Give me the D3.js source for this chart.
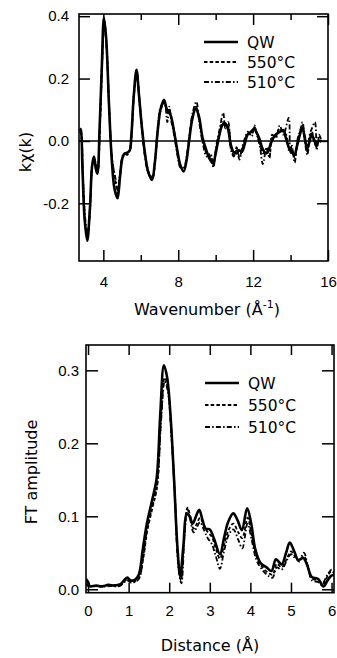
<!DOCTYPE html>
<html>
<head>
<meta charset="utf-8">
<script src="https://cdn.jsdelivr.net/npm/d3@7"></script>
<style>
  body { margin: 0; background: #fff; }
  svg { display: block; font-family: "DejaVu Sans", Verdana, sans-serif; }
  .tick line { stroke: #000; stroke-width: 1.5; }
  .tick text { font-size: 15px; fill: #000; }
</style>
</head>
<body>
<svg id="chart" width="337" height="658"></svg>
<script>
/* DATA */
const seriesNames = ["QW", "550°C", "510°C"];

// top panel: k*chi(k) vs wavenumber
const chiQW = [[2.75,0.04],[2.8,0.035],[2.88,-0.08],[3.0,-0.25],[3.14,-0.32],[3.28,-0.22],[3.4,-0.08],[3.5,-0.05],[3.6,-0.09],[3.68,-0.105],[3.8,0.04],[3.92,0.24],[4.03,0.395],[4.15,0.33],[4.3,0.12],[4.45,-0.06],[4.6,-0.155],[4.76,-0.184],[4.88,-0.12],[5.0,-0.06],[5.1,-0.042],[5.25,-0.038],[5.4,-0.032],[5.5,0.02],[5.62,0.14],[5.77,0.228],[5.9,0.15],[6.05,0.05],[6.2,-0.03],[6.4,-0.1],[6.6,-0.125],[6.75,-0.07],[6.9,0.03],[7.05,0.1],[7.24,0.132],[7.4,0.1],[7.5,0.095],[7.62,0.078],[7.75,0.04],[7.95,-0.03],[8.1,-0.075],[8.29,-0.098],[8.45,-0.06],[8.6,0.01],[8.75,0.07],[8.93,0.105],[9.1,0.08],[9.3,0.01],[9.5,-0.03],[9.7,-0.06],[9.86,-0.072],[10.0,-0.04],[10.2,0.02],[10.35,0.05],[10.48,0.057],[10.65,0.04],[10.8,-0.01],[10.95,-0.035],[11.1,-0.04],[11.25,-0.03],[11.4,-0.035],[11.55,-0.01],[11.7,0.02],[11.9,0.03],[12.05,0.038],[12.2,0.025],[12.35,0.005],[12.5,-0.025],[12.7,-0.04],[12.85,-0.025],[13.0,0.0],[13.2,0.02],[13.4,0.028],[13.6,0.035],[13.75,0.01],[13.9,-0.02],[14.05,-0.035],[14.2,-0.045],[14.35,-0.015],[14.5,0.02],[14.62,0.042],[14.75,0.015],[14.88,-0.025],[15.0,-0.005],[15.12,0.02],[15.25,0.005],[15.38,-0.012],[15.5,0.0],[15.65,-0.002]];
const chi550 = [[2.75,0.03],[2.82,0.02],[2.9,-0.1],[3.02,-0.26],[3.15,-0.31],[3.3,-0.2],[3.42,-0.07],[3.52,-0.055],[3.62,-0.085],[3.7,-0.1],[3.82,0.05],[3.94,0.25],[4.05,0.385],[4.17,0.31],[4.32,0.1],[4.45,-0.05],[4.6,-0.11],[4.7,-0.15],[4.78,-0.172],[4.9,-0.11],[5.02,-0.055],[5.12,-0.045],[5.27,-0.04],[5.42,-0.03],[5.52,0.03],[5.64,0.15],[5.79,0.22],[5.92,0.14],[6.07,0.04],[6.22,-0.04],[6.42,-0.1],[6.62,-0.12],[6.77,-0.06],[6.92,0.04],[7.07,0.1],[7.26,0.125],[7.42,0.09],[7.52,0.1],[7.64,0.07],[7.78,0.03],[7.97,-0.04],[8.12,-0.08],[8.3,-0.09],[8.47,-0.05],[8.62,0.02],[8.77,0.08],[8.95,0.11],[9.12,0.07],[9.32,0.0],[9.52,-0.04],[9.72,-0.05],[9.88,-0.08],[10.02,-0.03],[10.22,0.03],[10.37,0.06],[10.5,0.05],[10.67,0.045],[10.82,-0.02],[10.97,-0.045],[11.12,-0.03],[11.27,-0.05],[11.42,-0.025],[11.57,0.0],[11.72,0.025],[11.92,0.02],[12.07,0.045],[12.22,0.02],[12.37,-0.01],[12.52,-0.04],[12.72,-0.03],[12.87,-0.05],[13.02,0.01],[13.22,0.015],[13.42,0.04],[13.62,0.025],[13.77,0.02],[13.92,-0.03],[14.07,-0.025],[14.22,-0.055],[14.37,-0.005],[14.52,0.03],[14.64,0.05],[14.77,0.005],[14.9,-0.035],[15.02,0.01],[15.14,0.03],[15.27,-0.005],[15.4,-0.02],[15.52,0.01],[15.65,0.0]];
const chi510 = [[2.75,0.035],[2.82,0.025],[2.9,-0.09],[3.02,-0.24],[3.16,-0.3],[3.3,-0.21],[3.42,-0.075],[3.52,-0.06],[3.62,-0.08],[3.7,-0.095],[3.82,0.06],[3.94,0.26],[4.05,0.375],[4.17,0.3],[4.32,0.09],[4.47,-0.06],[4.58,-0.1],[4.68,-0.13],[4.78,-0.16],[4.9,-0.1],[5.02,-0.05],[5.12,-0.04],[5.27,-0.045],[5.42,-0.025],[5.52,0.035],[5.64,0.16],[5.79,0.215],[5.92,0.13],[6.07,0.03],[6.22,-0.05],[6.42,-0.105],[6.62,-0.115],[6.77,-0.055],[6.92,0.05],[7.07,0.11],[7.26,0.12],[7.42,0.06],[7.52,0.11],[7.64,0.06],[7.78,0.02],[7.97,-0.05],[8.12,-0.085],[8.3,-0.085],[8.47,-0.04],[8.62,0.03],[8.77,0.09],[8.97,0.126],[9.12,0.06],[9.32,-0.01],[9.52,-0.05],[9.72,-0.04],[9.88,-0.085],[10.02,-0.02],[10.22,0.04],[10.4,0.09],[10.52,0.04],[10.67,0.06],[10.82,-0.03],[10.97,-0.05],[11.12,-0.02],[11.27,-0.06],[11.42,-0.02],[11.57,0.01],[11.72,0.03],[11.92,0.015],[12.07,0.05],[12.22,0.015],[12.37,-0.02],[12.52,-0.074],[12.72,-0.02],[12.87,-0.055],[13.02,0.02],[13.22,0.01],[13.42,0.05],[13.62,0.02],[13.9,0.074],[13.98,-0.04],[14.07,-0.015],[14.22,-0.07],[14.37,0.005],[14.52,0.035],[14.64,0.06],[14.77,-0.005],[14.9,-0.045],[15.02,0.02],[15.14,0.04],[15.3,0.06],[15.4,-0.03],[15.52,0.02],[15.65,0.0]];

// bottom panel: Fourier transform amplitude vs distance
const ftQW = [[-0.05,0.014],[0.0,0.01],[0.05,0.004],[0.2,0.005],[0.35,0.004],[0.5,0.006],[0.65,0.005],[0.8,0.007],[0.9,0.013],[0.97,0.016],[1.05,0.012],[1.15,0.013],[1.25,0.02],[1.35,0.055],[1.45,0.09],[1.57,0.12],[1.69,0.152],[1.78,0.24],[1.87,0.307],[1.95,0.29],[2.03,0.24],[2.12,0.15],[2.2,0.06],[2.27,0.018],[2.35,0.06],[2.43,0.104],[2.5,0.1],[2.58,0.09],[2.66,0.1],[2.74,0.109],[2.82,0.095],[2.9,0.083],[3.0,0.082],[3.1,0.07],[3.25,0.048],[3.35,0.07],[3.45,0.092],[3.58,0.104],[3.68,0.095],[3.79,0.081],[3.92,0.111],[4.02,0.09],[4.12,0.055],[4.25,0.036],[4.4,0.03],[4.52,0.025],[4.63,0.041],[4.77,0.034],[4.88,0.05],[4.97,0.064],[5.08,0.052],[5.18,0.04],[5.3,0.043],[5.4,0.033],[5.51,0.017],[5.67,0.014],[5.8,0.004],[5.9,0.012],[5.98,0.018],[6.06,0.02]];
const ft550 = [[-0.05,0.008],[0.05,0.005],[0.2,0.004],[0.35,0.005],[0.5,0.004],[0.65,0.006],[0.8,0.006],[0.9,0.011],[0.98,0.014],[1.06,0.01],[1.16,0.011],[1.26,0.016],[1.36,0.042],[1.46,0.08],[1.58,0.11],[1.7,0.14],[1.8,0.235],[1.89,0.29],[1.97,0.275],[2.05,0.22],[2.14,0.13],[2.22,0.04],[2.29,0.012],[2.37,0.07],[2.45,0.112],[2.52,0.1],[2.6,0.083],[2.68,0.09],[2.76,0.098],[2.85,0.088],[2.95,0.078],[3.05,0.072],[3.15,0.055],[3.25,0.042],[3.35,0.06],[3.47,0.082],[3.58,0.09],[3.7,0.078],[3.8,0.07],[3.93,0.098],[4.03,0.075],[4.15,0.045],[4.3,0.03],[4.45,0.022],[4.55,0.02],[4.65,0.035],[4.77,0.03],[4.9,0.042],[5.0,0.052],[5.1,0.045],[5.2,0.038],[5.32,0.045],[5.42,0.03],[5.52,0.015],[5.67,0.012],[5.8,0.008],[5.9,0.018],[6.0,0.025],[6.06,0.022]];
const ft510 = [[-0.05,0.006],[0.05,0.004],[0.2,0.005],[0.35,0.003],[0.5,0.005],[0.65,0.004],[0.8,0.005],[0.9,0.01],[0.98,0.012],[1.06,0.009],[1.16,0.01],[1.26,0.015],[1.36,0.045],[1.46,0.085],[1.58,0.113],[1.7,0.143],[1.8,0.23],[1.89,0.285],[1.97,0.27],[2.05,0.215],[2.14,0.125],[2.22,0.035],[2.3,0.008],[2.38,0.075],[2.45,0.11],[2.52,0.095],[2.6,0.078],[2.68,0.085],[2.76,0.092],[2.85,0.082],[2.95,0.07],[3.05,0.062],[3.15,0.045],[3.25,0.028],[3.35,0.052],[3.47,0.075],[3.58,0.082],[3.7,0.068],[3.8,0.056],[3.93,0.09],[4.03,0.068],[4.15,0.04],[4.3,0.026],[4.45,0.018],[4.55,0.016],[4.65,0.03],[4.77,0.027],[4.9,0.04],[5.0,0.048],[5.1,0.043],[5.2,0.04],[5.32,0.05],[5.42,0.03],[5.52,0.012],[5.67,0.01],[5.75,0.006],[5.9,0.02],[6.0,0.027],[6.06,0.024]];

// ticks
const chiXMajor = [4, 8, 12, 16];
const chiXMinor = [6, 10, 14];
const chiYTicks = [-0.2, 0.0, 0.2, 0.4];
const ftXTicks = [0, 1, 2, 3, 4, 5, 6];
const ftYTicks = [0.0, 0.1, 0.2, 0.3];

const dashStyles = [null, "3.5,2.2", "5,2.2,1.5,2.2"];
const strokeWidths = [2.6, 1.8, 1.8];

const svg = d3.select("#chart");

function drawPanel(p) {
  const x = d3.scaleLinear().domain(p.xDomain).range([p.left, p.right]);
  const y = d3.scaleLinear().domain(p.yDomain).range([p.bottom, p.top]);
  const g = svg.append("g");
  const w = p.right - p.left, h = p.bottom - p.top;

  g.append("clipPath").attr("id", p.id + "-clip")
    .append("rect").attr("x", p.left).attr("y", p.top).attr("width", w).attr("height", h);

  // zero line
  if (p.zeroLine) {
    g.append("line")
      .attr("x1", p.left).attr("x2", p.right)
      .attr("y1", y(0)).attr("y2", y(0))
      .attr("stroke", "#000").attr("stroke-width", 1.6);
  }

  // curves
  const line = d3.line().x(d => x(d[0])).y(d => y(d[1])).curve(d3.curveCatmullRom.alpha(0.5));
  const lines = g.append("g").attr("clip-path", `url(#${p.id}-clip)`);
  p.series.forEach((s, i) => {
    lines.append("path").datum(s)
      .attr("d", line)
      .attr("fill", "none")
      .attr("stroke", "#000")
      .attr("stroke-width", strokeWidths[i])
      .attr("stroke-linejoin", "round")
      .attr("stroke-dasharray", dashStyles[i]);
  });

  // bottom / top axes (inward ticks)
  g.append("g").attr("transform", `translate(0,${p.bottom})`)
    .call(d3.axisBottom(x).tickValues(p.xMajor).tickSize(-p.xTick).tickSizeOuter(0)
      .tickPadding(p.xPad).tickFormat(d => d3.format("d")(d)));
  g.append("g").attr("transform", `translate(0,${p.top})`)
    .call(d3.axisTop(x).tickValues(p.xMajor).tickSize(-p.xTick).tickSizeOuter(0).tickFormat(""));
  if (p.xMinor) {
    g.append("g").attr("transform", `translate(0,${p.bottom})`)
      .call(d3.axisBottom(x).tickValues(p.xMinor).tickSize(-6).tickSizeOuter(0).tickFormat(""));
    g.append("g").attr("transform", `translate(0,${p.top})`)
      .call(d3.axisTop(x).tickValues(p.xMinor).tickSize(-6).tickSizeOuter(0).tickFormat(""));
  }
  // left / right axes
  g.append("g").attr("transform", `translate(${p.left},0)`)
    .call(d3.axisLeft(y).tickValues(p.yTicks).tickSize(-p.yTick).tickSizeOuter(0)
      .tickPadding(p.yPad).tickFormat(d => d.toFixed(1)));
  g.append("g").attr("transform", `translate(${p.right},0)`)
    .call(d3.axisRight(y).tickValues(p.yTicks).tickSize(-p.yTick).tickSizeOuter(0).tickFormat(""));
  g.selectAll(".domain").remove();

  // frame
  g.append("rect")
    .attr("x", p.left).attr("y", p.top).attr("width", w).attr("height", h)
    .attr("fill", "none").attr("stroke", "#000").attr("stroke-width", 1.6);

  // axis titles
  const xt = g.append("text")
    .attr("x", p.xTitleX).attr("y", p.xTitleY)
    .attr("text-anchor", "middle").attr("font-size", 16).text(p.xTitle);
  if (p.xTitleSup) {
    xt.append("tspan").attr("font-size", 11).attr("dy", -7).text(p.xTitleSup);
    xt.append("tspan").attr("dy", 7).text(")");
  }
  g.append("text")
    .attr("transform", `translate(${p.yTitleX},${p.yTitleY}) rotate(-90)`)
    .attr("text-anchor", "middle").attr("font-size", 16).text(p.yTitle);

  // legend
  const leg = g.append("g");
  seriesNames.forEach((name, i) => {
    const ly = p.legendY + i * p.legendStep;
    leg.append("line")
      .attr("x1", p.legendX).attr("x2", p.legendX + 34)
      .attr("y1", ly).attr("y2", ly)
      .attr("stroke", "#000").attr("stroke-width", strokeWidths[i])
      .attr("stroke-dasharray", dashStyles[i]);
    leg.append("text")
      .attr("x", p.legendX + 43).attr("y", ly + 5.5)
      .attr("font-size", 15.5).text(name);
  });
}

drawPanel({
  id: "chi",
  left: 79, right: 328, top: 14, bottom: 261,
  xDomain: [2.7, 16], yDomain: [-0.385, 0.407],
  series: [chiQW, chi550, chi510],
  zeroLine: true,
  xMajor: chiXMajor, xMinor: chiXMinor, yTicks: chiYTicks,
  xTick: 11, yTick: 11, xPad: 15, yPad: 10,
  xTitle: "Wavenumber (Å", xTitleSup: "-1", xTitleX: 207, xTitleY: 315,
  yTitle: "kχ(k)", yTitleX: 31, yTitleY: 152,
  legendX: 204, legendY: 42, legendStep: 20
});

drawPanel({
  id: "ft",
  left: 86, right: 334, top: 345, bottom: 592.7,
  xDomain: [-0.05, 6.06], yDomain: [-0.0047, 0.3347],
  series: [ftQW, ft550, ft510],
  zeroLine: false,
  xMajor: ftXTicks, xMinor: null, yTicks: ftYTicks,
  xTick: 10, yTick: 12, xPad: 13, yPad: 7,
  xTitle: "Distance (Å)", xTitleSup: null, xTitleX: 210, xTitleY: 651,
  yTitle: "FT amplitude", yTitleX: 37, yTitleY: 472,
  legendX: 205, legendY: 383, legendStep: 22
});
</script>
</body>
</html>
